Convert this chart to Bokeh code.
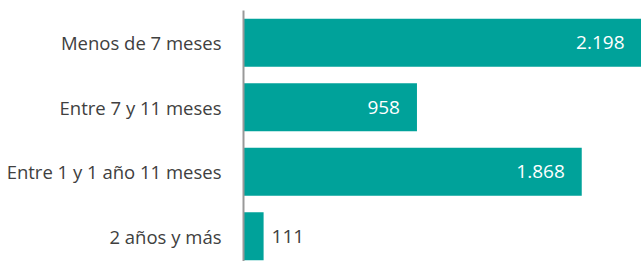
from bokeh.plotting import figure
from bokeh.models import ColumnDataSource, Range1d, FixedTicker
from bokeh.core.properties import value
from bokeh.embed import file_html
from bokeh.resources import INLINE

categories = ["Menos de 7 meses", "Entre 7 y 11 meses", "Entre 1 y 1 año 11 meses", "2 años y más"]
values = [2198, 958, 1868, 111]

BAR_COLOR = "#00A29A"
FONT = "Open Sans"

pos = list(range(len(categories)))
vmax = max(values)
labels = [f"{v:,}".replace(",", ".") for v in values]
inside = [v > 0.15 * vmax for v in values]

src = ColumnDataSource(dict(
    y=pos, v=values, lab=labels,
    align=["right" if i else "left" for i in inside],
    xoff=[-17 if i else 8 for i in inside],
    col=["white" if i else "#404040" for i in inside],
))

p = figure(width=641, height=261, output_backend="svg", toolbar_location=None,
           x_range=Range1d(0, vmax), y_range=Range1d(3.39, -0.5),
           min_border_left=243, min_border_right=0, min_border_top=10, min_border_bottom=0)

p.hbar(y="y", right="v", left=0, height=0.745, source=src, color=BAR_COLOR, line_color=None)
p.text(x="v", y="y", text="lab", x_offset="xoff", text_align="align", text_baseline="middle",
       text_color="col", text_font=value(FONT), text_font_size="19px", source=src)

p.xaxis.visible = False
p.xgrid.visible = False
p.ygrid.visible = False
p.outline_line_color = None

ya = p.yaxis[0]
ya.ticker = FixedTicker(ticks=pos)
ya.major_label_overrides = {i: c for i, c in zip(pos, categories)}
ya.major_tick_line_color = None
ya.minor_tick_line_color = None
ya.major_tick_out = 0
ya.major_tick_in = 0
ya.axis_line_color = "#999999"
ya.axis_line_width = 2
ya.major_label_standoff = 22
ya.major_label_text_font = FONT
ya.major_label_text_font_size = "18.5px"
ya.major_label_text_color = "#404040"

open("out.html", "w").write(file_html(p, INLINE))
